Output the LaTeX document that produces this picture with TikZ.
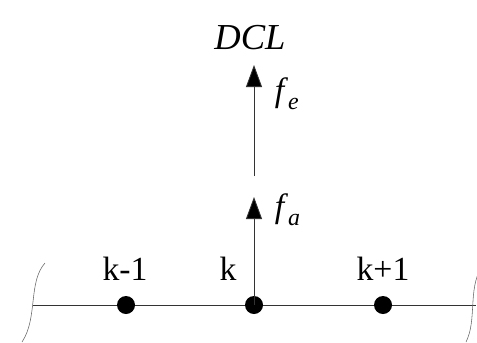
\documentclass[tikz,border=0pt]{standalone}
\usepackage{fontspec}
\setmainfont{Liberation Serif}
\usetikzlibrary{arrows.meta, positioning}

\newcommand{\forcelbl}[1]{\textit{f}\raisebox{-0.25em}{\fontsize{17}{18}\selectfont\textit{#1}}}

\begin{document}
\begin{tikzpicture}[
    x=0.025cm, y=-0.025cm,
    % Styles
    mass/.style={
        circle,
        fill=black,
        inner sep=0pt,
        minimum size=0.45cm
    },
    lbl/.style={
        font=\fontsize{24}{26}\selectfont
    },
    beam/.style={
        line width=0.6pt,
        black!80
    },
    force/.style={
        -{Triangle[length=0.55cm, width=0.4cm, fill=black]},
        line width=0.6pt,
        black!80
    },
    breakmark/.style={
        line width=0.4pt,
        black!60
    }
]

\useasboundingbox (0,0) rectangle (477,342);

% Title
\node[font=\fontsize{26}{28}\selectfont\itshape] (title) at (250,38) {DCL};

% Masses
\node[mass] (km1) at (126,305) {};
\node[mass] (k) at (254,305) {};
\node[mass] (kp1) at (383,305) {};

% Labels
\node[lbl] (lkm1) at (125,269) {k-1};
\node[lbl] (lk) at (228,269) {k};
\node[lbl] (lkp1) at (383,269) {k+1};

% Line ends and force points
\coordinate (lend) at (33,305);
\coordinate (rend) at (476,305);
\coordinate (fatip) at (254,197);
\coordinate (fetail) at (254,176);
\coordinate (fetip) at (254,65);

% Beam
\draw[beam] (lend) -- (km1) -- (k) -- (kp1) -- (rend);

% Forces
\draw[force] (k.center) -- (fatip);
\draw[force] (fetail) -- (fetip);
\node[anchor=west, font=\fontsize{24}{26}\selectfont] (fa) at (270,210) {\forcelbl{a}};
\node[anchor=west, font=\fontsize{24}{26}\selectfont] (fe) at (270,94) {\forcelbl{e}};

% Break marks
\draw[breakmark] (45,263) .. controls (28,282) and (38,318) .. (22,342);
\draw[breakmark] (481,268) .. controls (468,290) and (477,320) .. (466,342);

\end{tikzpicture}
\end{document}
